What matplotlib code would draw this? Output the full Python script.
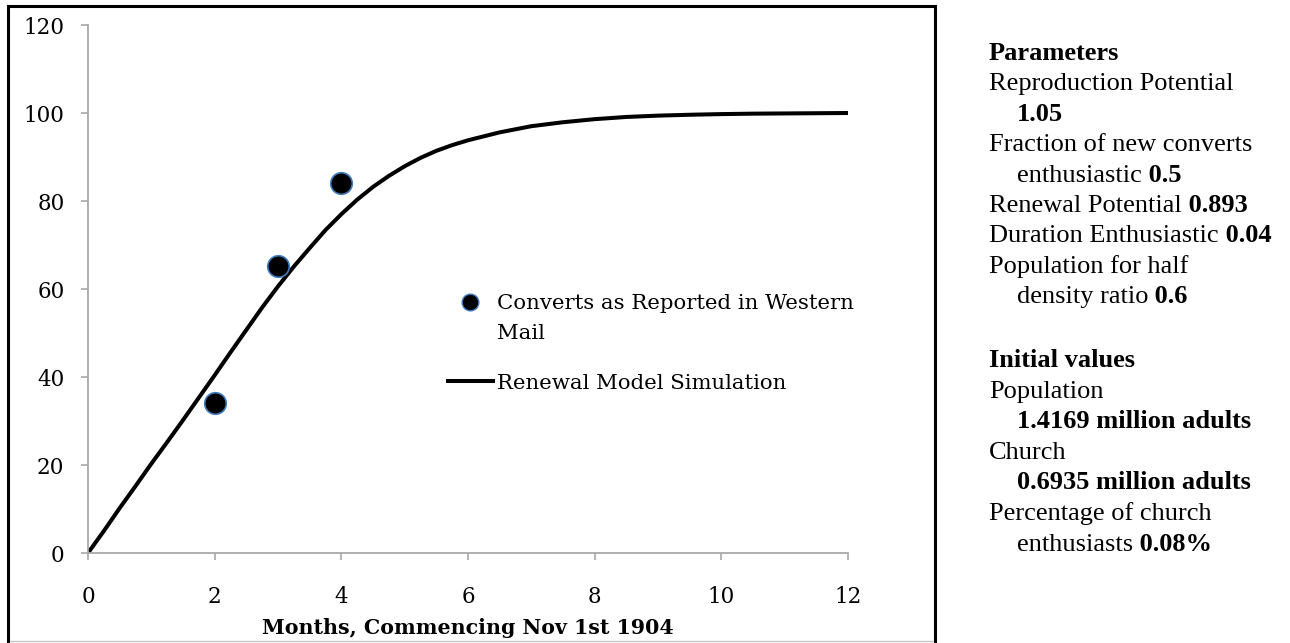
import matplotlib
matplotlib.use("Agg")
import matplotlib.pyplot as plt
from matplotlib.lines import Line2D
from matplotlib.patches import Rectangle

W, H = 1290, 643

# simulated curve
months = [0, 0.25, 0.5, 0.75, 1, 1.25, 1.5, 1.75, 2, 2.25, 2.5, 2.75, 3,
          3.25, 3.5, 3.75, 4, 4.25, 4.5, 4.75, 5, 5.25, 5.5, 5.75, 6,
          6.5, 7, 7.5, 8, 8.5, 9, 9.5, 10, 10.5, 11, 11.5, 12]
simulation = [0, 5.0, 10.2, 15.2, 20.3, 25.2, 30.2, 35.3, 40.4, 45.6, 50.7,
              55.8, 60.6, 65.1, 69.3, 73.4, 77.0, 80.3, 83.2, 85.7, 87.9,
              89.8, 91.4, 92.7, 93.8, 95.6, 97.0, 97.9, 98.6, 99.1, 99.4,
              99.6, 99.75, 99.85, 99.9, 99.95, 100]

# reported converts
report_months = [2, 3, 4]
report_converts = [34.2, 65.3, 84.0]

x_ticks = [0, 2, 4, 6, 8, 10, 12]
y_ticks = [0, 20, 40, 60, 80, 100, 120]

# side notes: (indent, normal part, bold part)
param_lines = [
    (0, "", "Parameters"),
    (0, "Reproduction Potential", ""),
    (1, "", "1.05"),
    (0, "Fraction of new converts", ""),
    (1, "enthusiastic", " 0.5"),
    (0, "Renewal Potential", " 0.893"),
    (0, "Duration Enthusiastic", " 0.04"),
    (0, "Population for half", ""),
    (1, "density ratio", " 0.6"),
]
init_lines = [
    (0, "", "Initial values"),
    (0, "Population", ""),
    (1, "", "1.4169 million adults"),
    (0, "Church", ""),
    (1, "", "0.6935 million adults"),
    (0, "Percentage of church", ""),
    (1, "enthusiasts", " 0.08%"),
]

grey = "#a8a8a8"
serif = "DejaVu Serif"

fig = plt.figure(figsize=(W / 100, H / 100), dpi=100)
ax = fig.add_axes([88 / W, 1 - 553 / H, 760 / W, 528 / H])

ax.plot(months, simulation, color="black", lw=2.9, solid_capstyle="butt",
        solid_joinstyle="round", zorder=2)
ax.plot(report_months, report_converts, "o", ms=15.5, mfc="black",
        mec="#3f7cbf", mew=1.2, zorder=3)

ax.set_xlim(0, 12)
ax.set_ylim(0, 120)
ax.set_xticks(x_ticks)
ax.set_yticks(y_ticks)
for s in ["top", "right"]:
    ax.spines[s].set_visible(False)
for s in ["left", "bottom"]:
    ax.spines[s].set_color(grey)
    ax.spines[s].set_linewidth(1.3)
ax.tick_params(direction="out", length=5, width=1.2, color=grey,
               labelsize=15.5, labelcolor="black")
ax.tick_params(axis="x", pad=19)
ax.tick_params(axis="y", pad=12)
for lab in ax.get_xticklabels() + ax.get_yticklabels():
    lab.set_family(serif)
ax.set_xlabel("Months, Commencing Nov 1st 1904", family=serif,
              fontweight="bold", fontsize=14.8, labelpad=7)

# legend
h_pts = Line2D([], [], ls="none", marker="o", ms=12, mfc="black",
               mec="#3f7cbf", mew=1.0)
h_line = Line2D([], [], color="black", lw=2.9)
leg = ax.legend([h_pts, h_line],
                ["Converts as Reported in Western", "Renewal Model Simulation"],
                loc="upper left",
                bbox_to_anchor=((448 - 88) / 760, (553 - 294) / 528),
                frameon=False, borderpad=0, borderaxespad=0,
                handlelength=2.1, handletextpad=0.2, labelspacing=2.85,
                prop={"family": serif, "size": 15.3})

# frame around the chart
fig.add_artist(Rectangle((8 / W, -0.05), (935 - 8) / W, (H - 6) / H + 0.05,
                         transform=fig.transFigure, fill=False, lw=2.2,
                         ec="black"))
fig.add_artist(Line2D([10 / W, 933 / W], [1 - 641 / H, 1 - 641 / H],
                      transform=fig.transFigure, color="#c8c8c8", lw=1.0))

fig.canvas.draw()
renderer = fig.canvas.get_renderer()

# second line of the first legend label
bb = leg.get_texts()[0].get_window_extent(renderer)
fig.text(bb.x0 / W, (bb.y0 - 30) / H, "Mail", family=serif, fontsize=15.3,
         va="bottom", ha="left")


def note_block(lines, y0, step):
    for i, (indent, normal, bold) in enumerate(lines):
        yb = 1 - (y0 + i * step + 8) / H
        x = (989 + 28 * indent) / W
        if normal:
            t = fig.text(x, yb, normal, family="Liberation Serif",
                         fontsize=19, va="baseline", ha="left")
            x = t.get_window_extent(renderer).x1 / W
        if bold:
            fig.text(x, yb, bold, family="Liberation Serif", fontsize=19,
                     fontweight="bold", va="baseline", ha="left")


note_block(param_lines, 52, 30.4)
note_block(init_lines, 359, 30.6)

fig.savefig("out.png", dpi=100)
